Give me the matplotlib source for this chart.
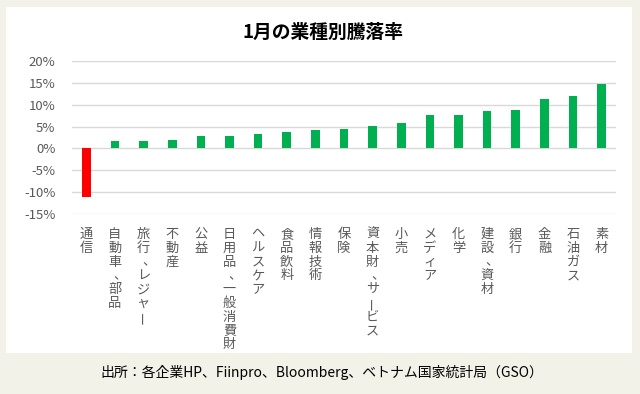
import numpy as np
import matplotlib
matplotlib.use("Agg")
import matplotlib.pyplot as plt
from matplotlib.patches import Rectangle
from matplotlib.ticker import FuncFormatter

plt.rcParams['font.family'] = ['Noto Sans CJK JP', 'DejaVu Sans']

title = "1月の業種別騰落率"
source = "出所：各企業HP、Fiinpro、Bloomberg、ベトナム国家統計局（GSO）"
sectors = ["通信", "自動車、部品", "旅行、レジャー", "不動産", "公益",
           "日用品、一般消費財", "ヘルスケア", "食品飲料", "情報技術", "保険",
           "資本財、サービス", "小売", "メディア", "化学", "建設、資材",
           "銀行", "金融", "石油ガス", "素材"]
returns = [-11.0, 1.7, 1.7, 1.9, 2.8, 2.8, 3.3, 3.7, 4.2, 4.4,
           5.1, 5.8, 7.6, 7.6, 8.5, 8.9, 11.2, 12.1, 14.8]
yticks = [-15, -10, -5, 0, 5, 10, 15, 20]

W, H = 640, 394
fig = plt.figure(figsize=(W / 100, H / 100), dpi=100)
fig.patch.set_facecolor('#F2F2E9')

# white panel behind the chart
fig.patches.append(Rectangle((6 / W, 1 - 353 / H), 626 / W, 346 / H,
                             transform=fig.transFigure, facecolor='white',
                             edgecolor='none', zorder=-5))

ax = fig.add_axes([72 / W, 1 - 214 / H, (616 - 72) / W, (214 - 61) / H])
ax.set_zorder(2)
ax.set_facecolor('white')

x = np.arange(len(sectors))
colors = ['#FF0000' if v < 0 else '#00B050' for v in returns]
ax.bar(x, returns, width=0.3, color=colors, zorder=3)

ax.set_xlim(-0.5, len(sectors) - 0.5)
ax.set_ylim(-15, 20)
ax.set_yticks(yticks)
ax.yaxis.set_major_formatter(FuncFormatter(lambda v, p: f"{v:.0f}%"))
ax.tick_params(axis='y', length=0, pad=12, labelsize=9.5, labelcolor='#595959')
ax.set_xticks([])
ax.grid(axis='y', color='#D9D9D9', linewidth=1, zorder=0)
for s in ax.spines.values():
    s.set_visible(False)

# vertical (stacked) category labels, like Excel's stacked text
pitch = 13.8
for i, name in enumerate(sectors):
    for k, ch in enumerate(name):
        dx = 5 if ch == '、' else 0   # comma leans right in vertical writing
        ax.annotate(ch, xy=(i, 0), xycoords=('data', 'axes fraction'),
                    xytext=(dx, -14 - k * pitch), textcoords='offset pixels',
                    ha='center', va='top', fontsize=9.5, color='#595959',
                    rotation=90 if ch == 'ー' else 0, annotation_clip=False)

fig.text(323 / W, 1 - 32 / H, title, ha='center', va='center',
         fontsize=13.5, fontweight='bold', color='black')
fig.text(322 / W, 1 - 373 / H, source, ha='center', va='center',
         fontsize=10, color='black')

fig.savefig('out.png', dpi=100, facecolor=fig.get_facecolor())
